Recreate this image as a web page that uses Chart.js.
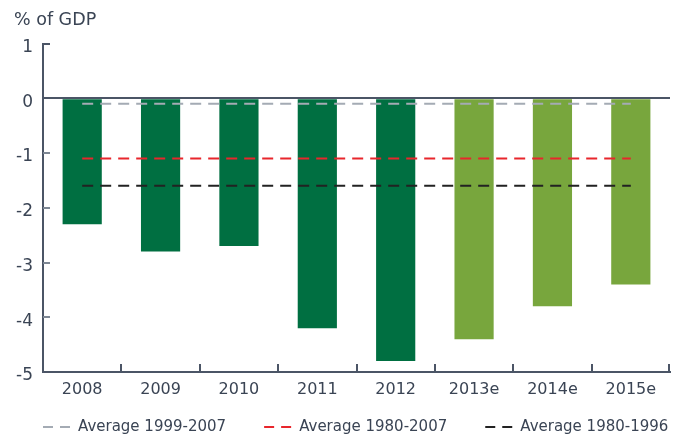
<!DOCTYPE html>
<html>
<head>
<meta charset="utf-8">
<script src="https://cdn.jsdelivr.net/npm/chart.js@4/dist/chart.umd.min.js"></script>
<style>
  html, body { margin: 0; padding: 0; background: #ffffff; }
  #wrap { width: 681px; height: 437px; position: relative; }
</style>
</head>
<body>
<div id="wrap"><canvas id="chart" width="681" height="437"></canvas></div>
<script>
// Budget balance, % of GDP
const years = ['2008', '2009', '2010', '2011', '2012', '2013e', '2014e', '2015e'];
const balance = [-2.3, -2.8, -2.7, -4.2, -4.8, -4.4, -3.8, -3.4];
const isEstimate = [false, false, false, false, false, true, true, true];

// Long-run averages, drawn as dashed reference lines
const avg1999to2007 = [-0.1, -0.1, -0.1, -0.1, -0.1, -0.1, -0.1, -0.1];
const avg1980to2007 = [-1.1, -1.1, -1.1, -1.1, -1.1, -1.1, -1.1, -1.1];
const avg1980to1996 = [-1.6, -1.6, -1.6, -1.6, -1.6, -1.6, -1.6, -1.6];
const averageLabels = ['Average 1999-2007', 'Average 1980-2007', 'Average 1980-1996'];

const yMin = -5, yMax = 1, yStep = 1;

const TEXT = '#3a4454';
const AXIS = '#4b5566';
const TICK = '#7d8794';
const DARK_GREEN = '#006f41';
const LIGHT_GREEN = '#78a63d';
const FONT = '"DejaVu Sans", sans-serif';

// Short tick marks drawn inside the plot area
const innerTicks = {
  id: 'innerTicks',
  afterDatasetsDraw(chart) {
    const { ctx, chartArea, scales } = chart;
    const y = scales.y, x = scales.x;
    ctx.save();
    ctx.lineWidth = 2;
    ctx.setLineDash([]);
    y.ticks.forEach(t => {
      if (t.value === 0 || t.value === yMin) return;
      const py = Math.round(y.getPixelForValue(t.value));
      ctx.strokeStyle = t.value === yMax ? AXIS : TICK;
      ctx.beginPath();
      ctx.moveTo(chartArea.left, py);
      ctx.lineTo(chartArea.left + 7, py);
      ctx.stroke();
    });
    ctx.strokeStyle = AXIS;
    for (let i = 1; i <= years.length; i++) {
      const px = i < years.length
        ? Math.round((x.getPixelForValue(i - 1) + x.getPixelForValue(i)) / 2)
        : chartArea.right - 1;
      ctx.beginPath();
      ctx.moveTo(px, chartArea.bottom);
      ctx.lineTo(px, chartArea.bottom - 8);
      ctx.stroke();
    }
    ctx.restore();
  }
};

// Legend row for the dashed average lines
const dashLegend = {
  id: 'dashLegend',
  afterDraw(chart) {
    const { ctx } = chart;
    const y = 427;
    const gap = 38, swatch = 28, textGap = 7;
    ctx.save();
    ctx.font = '15px ' + FONT;
    ctx.textBaseline = 'middle';
    let x = 43;
    chart.data.datasets.forEach(ds => {
      if (ds.type !== 'line') return;
      ctx.strokeStyle = ds.borderColor;
      ctx.lineWidth = 2;
      ctx.setLineDash([10, 7]);
      ctx.beginPath();
      ctx.moveTo(x, y);
      ctx.lineTo(x + swatch, y);
      ctx.stroke();
      ctx.setLineDash([]);
      ctx.fillStyle = TEXT;
      const tx = x + swatch + textGap;
      ctx.fillText(ds.label, tx, y);
      x = tx + ctx.measureText(ds.label).width + gap;
    });
    ctx.restore();
  }
};

const lineStyle = (label, data, color) => ({
  type: 'line',
  label,
  data,
  borderColor: color,
  backgroundColor: color,
  borderWidth: 2,
  borderDash: [11, 7],
  pointRadius: 0,
  pointHoverRadius: 0,
  fill: false,
  tension: 0,
  order: 0
});

new Chart(document.getElementById('chart'), {
  data: {
    labels: years,
    datasets: [
      {
        type: 'bar',
        label: 'Budget balance',
        data: balance,
        backgroundColor: isEstimate.map(e => e ? LIGHT_GREEN : DARK_GREEN),
        borderWidth: 0,
        barPercentage: 0.5,
        categoryPercentage: 1,
        order: 1
      },
      lineStyle(averageLabels[0], avg1999to2007, '#a4abb4'),
      lineStyle(averageLabels[1], avg1980to2007, '#e8262c'),
      lineStyle(averageLabels[2], avg1980to1996, '#222222')
    ]
  },
  options: {
    responsive: false,
    animation: false,
    devicePixelRatio: 1,
    layout: { padding: { left: 14, right: 11, top: 0, bottom: 35 } },
    plugins: {
      legend: { display: false },
      tooltip: { enabled: false },
      title: {
        display: true,
        text: '% of GDP',
        align: 'start',
        color: TEXT,
        font: { family: FONT, size: 17.5, weight: 'normal' },
        padding: { top: 10, bottom: 12.5 }
      }
    },
    scales: {
      x: {
        type: 'category',
        offset: true,
        grid: { display: false, drawTicks: false },
        border: { display: true, color: AXIS, width: 2 },
        ticks: {
          color: TEXT,
          padding: 8,
          font: { family: FONT, size: 16, weight: 'normal' }
        },
        afterFit(scale) { scale.height = 30; }
      },
      y: {
        min: yMin,
        max: yMax,
        grid: {
          drawTicks: false,
          lineWidth: 2,
          color: c => (c.tick && c.tick.value === 0) ? AXIS : 'rgba(0,0,0,0)'
        },
        border: { display: true, color: AXIS, width: 2 },
        ticks: {
          stepSize: yStep,
          color: TEXT,
          padding: 10,
          labelOffset: 4,
          font: { family: FONT, size: 17, weight: 'normal' }
        },
        afterFit(scale) { scale.width = 29; }
      }
    }
  },
  plugins: [innerTicks, dashLegend]
});
</script>
</body>
</html>
